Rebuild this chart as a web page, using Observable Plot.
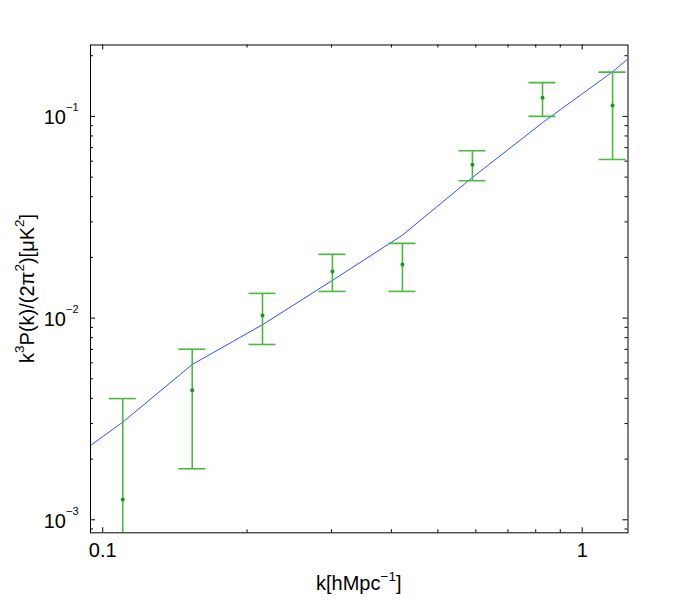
<!DOCTYPE html>
<html>
<head>
<meta charset="utf-8">
<script src="https://cdn.jsdelivr.net/npm/d3@7"></script>
<script src="https://cdn.jsdelivr.net/npm/@observablehq/plot@0.6"></script>
<style>
  body { margin: 0; background: #fff; }
  #chart svg { font-family: "Liberation Sans", Arial, Helvetica, sans-serif; }
</style>
</head>
<body>
<div id="chart"></div>
<script>
// ---- data ----
const k        = [0.1101, 0.1537, 0.2154, 0.3013, 0.4218, 0.5903, 0.8265, 1.157];
const power    = [0.00126, 0.00439, 0.01031, 0.01704, 0.01846, 0.0576, 0.1238, 0.1134];
const errLow   = [0.0005, 0.00179, 0.0074, 0.01356, 0.01356, 0.048, 0.1, 0.0612];
const errHigh  = [0.00399, 0.00701, 0.01326, 0.0207, 0.02347, 0.0676, 0.147, 0.1658];
const modelK   = [0.0943, 0.1101, 0.1537, 0.2154, 0.3013, 0.4218, 0.5903, 0.8265, 1.157, 1.246];
const modelP   = [0.002336, 0.003048, 0.00589, 0.00927, 0.01538, 0.02579, 0.0498, 0.0931, 0.1665, 0.193];

const xDomain = [0.0943, 1.246];
const yDomain = [0.000862, 0.226];
const xMajor = [0.1, 1];
const xMinor = [0.2, 0.3, 0.4, 0.5, 0.6, 0.7, 0.8, 0.9];
const yMajor = [0.001, 0.01, 0.1];
const yMinor = [0.0009, 0.002, 0.003, 0.004, 0.005, 0.006, 0.007, 0.008, 0.009,
                0.02, 0.03, 0.04, 0.05, 0.06, 0.07, 0.08, 0.09, 0.2];
const xTickLabels = ["0.1", "1"];
const yTickLabels = ["10^{\u22123}", "10^{\u22122}", "10^{\u22121}"];
const xLabel = "k[hMpc^{\u22121}]";
const yLabel = "k^{3}P(k)/(2\u03c0^{2})[\u03bcK^{2}]";

// ---- styles ----
const W = 692, H = 600;
const mL = 90, mR = 64.5, mT = 44.5, mB = 67.7;
const green = "#4db840", dotGreen = "#159a15", blue = "#2f4fff";
const capHalf = 13.5, majorLen = 5, minorLen = 3;
const fam = "'Liberation Sans', Arial, Helvetica, sans-serif";
const fontPx = 20, supPx = 13.5, tickSupPx = 11;

const data = k.map((d, i) => ({k: d, p: power[i], lo: errLow[i], hi: errHigh[i]}));
const model = modelK.map((d, i) => ({k: d, p: modelP[i]}));

function tickMarks(values, len) {
  const o = {stroke: "#000", strokeWidth: 1};
  return [
    Plot.ruleX(values, {x: d => d, y1: yDomain[0], y2: yDomain[0], insetTop: -len, ...o}),
    Plot.ruleX(values, {x: d => d, y1: yDomain[1], y2: yDomain[1], insetBottom: -len, ...o})
  ];
}
function tickMarksY(values, len) {
  const o = {stroke: "#000", strokeWidth: 1};
  return [
    Plot.ruleY(values, {y: d => d, x1: xDomain[0], x2: xDomain[0], insetRight: -len, ...o}),
    Plot.ruleY(values, {y: d => d, x1: xDomain[1], x2: xDomain[1], insetLeft: -len, ...o})
  ];
}

const plot = Plot.plot({
  width: W, height: H,
  marginLeft: mL, marginRight: mR, marginTop: mT, marginBottom: mB,
  x: {type: "log", domain: xDomain},
  y: {type: "log", domain: yDomain},
  style: {fontFamily: fam, fontSize: fontPx + "px",
          background: "#fff", color: "#000", overflow: "visible"},
  marks: [
    Plot.line(model, {x: "k", y: "p", stroke: blue, strokeWidth: 1, clip: true}),
    Plot.ruleX(data, {x: "k", y1: "lo", y2: "hi", stroke: green, strokeWidth: 1.6, clip: true}),
    Plot.ruleY(data, {y: "hi", x1: "k", x2: "k", insetLeft: -capHalf, insetRight: -capHalf,
                      stroke: green, strokeWidth: 1.6, clip: true}),
    Plot.ruleY(data, {y: "lo", x1: "k", x2: "k", insetLeft: -capHalf, insetRight: -capHalf,
                      stroke: green, strokeWidth: 1.6, clip: true}),
    Plot.dot(data, {x: "k", y: "p", r: 2, fill: dotGreen, stroke: "none", clip: true}),
    ...tickMarks(xMajor, majorLen),
    ...tickMarks(xMinor, minorLen),
    ...tickMarksY(yMajor, majorLen),
    ...tickMarksY(yMinor, minorLen),
    Plot.axisX({ticks: xMajor, tickFormat: d => xTickLabels[xMajor.indexOf(d)],
                tickSize: 0, tickPadding: 10, label: null}),
    Plot.axisY({ticks: yMajor, tickFormat: d => yTickLabels[yMajor.indexOf(d)],
                tickSize: 0, tickPadding: 12, label: null}),
    Plot.frame({stroke: "#000", strokeWidth: 1})
  ]
});
document.getElementById("chart").appendChild(plot);

// ---- superscript rendering helper ----
function fillRich(textSel, str, supSize, supDy) {
  textSel.text(null);
  const parts = str.split(/\^\{([^}]*)\}/);
  let raised = false;
  parts.forEach((p, i) => {
    if (p === "") return;
    const isSup = i % 2 === 1;
    const t = textSel.append("tspan").text(p);
    if (isSup) {
      t.attr("font-size", supSize).attr("dy", raised ? 0 : -supDy);
      raised = true;
    } else if (raised) {
      t.attr("dy", supDy); raised = false;
    }
  });
}

const svg = d3.select(plot);
svg.selectAll('g[aria-label="x-axis tick label"], g[aria-label="y-axis tick label"]')
  .attr("font-size", fontPx).style("font-size", fontPx + "px");
svg.selectAll('g[aria-label="x-axis tick label"] text, g[aria-label="y-axis tick label"] text')
  .attr("font-size", fontPx);
// y tick labels with superscripts
svg.selectAll('g[aria-label="y-axis tick label"] text').each(function() {
  const s = d3.select(this);
  fillRich(s, s.text(), tickSupPx, 13);
});
svg.selectAll('g[aria-label="y-axis tick label"]').attr("transform", function() {
  const t = this.getAttribute("transform") || "";
  return t + " translate(0,1.5)";
});

// x axis label
const xl = svg.append("text")
  .attr("x", mL + (W - mL - mR) / 2).attr("y", 590)
  .attr("text-anchor", "middle").attr("font-size", fontPx).attr("font-family", fam).attr("fill", "#000");
fillRich(xl, xLabel, supPx, 9);
// y axis label
const yl = svg.append("text")
  .attr("transform", `translate(33.5,${mT + (H - mT - mB) / 2}) rotate(-90)`)
  .attr("text-anchor", "middle").attr("font-size", fontPx).attr("font-family", fam).attr("fill", "#000");
fillRich(yl, yLabel, supPx, 10);
</script>
</body>
</html>
